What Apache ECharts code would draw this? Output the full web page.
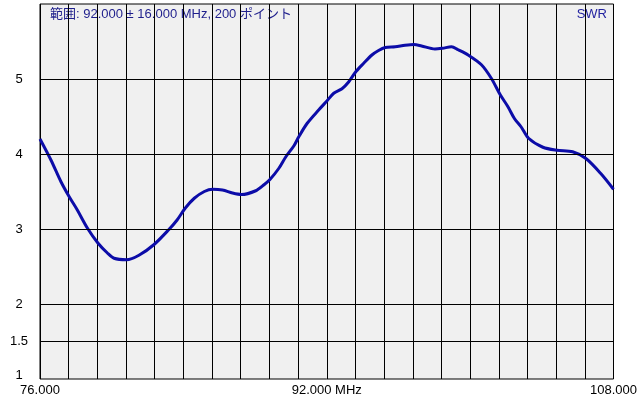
<!DOCTYPE html>
<html>
<head>
<meta charset="utf-8">
<script src="https://cdn.jsdelivr.net/npm/echarts@6/dist/echarts.min.js"></script>
<style>
html,body{margin:0;padding:0;background:#fff;}
#c{width:640px;height:400px;}
</style>
</head>
<body>
<div id="c"></div>
<script>
// Frequencies (MHz) and SWR values
var freq = [76.00,76.61,77.17,77.63,78.09,78.65,79.24,79.76,80.13,80.83,81.52,82.35,83.18,83.65,84.11,84.61,85.17,85.63,86.18,86.74,87.24,88.04,88.50,88.83,89.33,89.71,90.17,90.44,90.91,91.56,92.02,92.39,92.85,93.22,93.63,94.06,94.52,94.89,95.26,95.82,96.37,96.87,97.29,98.04,98.46,98.96,99.33,99.89,100.63,101.18,101.68,102.11,102.48,102.85,103.26,104.06,104.85,105.72,106.46,107.29,108.00];
var swr = [4.20,3.92,3.63,3.43,3.25,3.01,2.81,2.68,2.61,2.59,2.65,2.79,2.99,3.12,3.28,3.41,3.50,3.53,3.52,3.48,3.46,3.51,3.59,3.66,3.81,3.96,4.11,4.23,4.41,4.59,4.71,4.81,4.87,4.96,5.10,5.21,5.32,5.38,5.42,5.43,5.45,5.46,5.44,5.40,5.41,5.43,5.39,5.32,5.19,5.01,4.79,4.63,4.47,4.36,4.21,4.09,4.05,4.03,3.94,3.74,3.53];
var xTickValues = [76, 92, 108];
var xTickLabels = ['76.000', '92.000 MHz', '108.000'];
var yTickValues = [1, 1.5, 2, 3, 4, 5];
var yTickLabels = ['1', '1.5', '2', '3', '4', '5'];
var yGridValues = [1.5, 2, 3, 4, 5];
var titleText = '範囲: 92.000 ± 16.000 MHz, 200 ポイント';
var seriesName = 'SWR';

var chart = echarts.init(document.getElementById('c'), null, {renderer: 'canvas'});
var data = freq.map(function (f, i) { return [f, swr[i]]; });

function findLabel(vals, labels, v) {
  for (var i = 0; i < vals.length; i++) {
    if (Math.abs(vals[i] - v) < 0.01) return labels[i];
  }
  return null;
}

chart.setOption({
  animation: false,
  backgroundColor: '#ffffff',
  grid: {
    left: 40, right: 24, top: 4, bottom: 21,
    show: true, backgroundColor: '#f0f0f0',
    borderColor: '#000', borderWidth: 1
  },
  xAxis: {
    type: 'value', min: 76, max: 108, interval: 1.6,
    axisLine: {show: false}, axisTick: {show: false},
    splitLine: {show: true, lineStyle: {color: '#000', width: 1}},
    axisLabel: {
      show: true, margin: 5, color: '#000',
      fontFamily: 'Liberation Sans, Arial, sans-serif', fontSize: 13,
      showMinLabel: true, showMaxLabel: true,
      formatter: function (v) { var l = findLabel(xTickValues, xTickLabels, v); return l === null ? '' : l; }
    }
  },
  yAxis: {
    type: 'value', min: 1, max: 6, interval: 0.5,
    axisLine: {show: false}, axisTick: {show: false},
    splitLine: {show: false},
    axisLabel: {
      show: true, margin: 21, align: 'center', color: '#000',
      fontFamily: 'Liberation Sans, Arial, sans-serif', fontSize: 13,
      showMinLabel: true,
      formatter: function (v) {
        var l = findLabel(yTickValues, yTickLabels, v);
        if (l === null) return '';
        if (Math.abs(v - 1) < 0.01) return '{b|' + l + '}';
        return l;
      },
      rich: {
        b: {fontFamily: 'Liberation Sans, Arial, sans-serif', fontSize: 13, color: '#000', padding: [0, 0, 7, 0]}
      }
    }
  },
  graphic: [
    {type: 'text', left: 50, top: 8, silent: true,
     style: {text: titleText, fill: '#1e1e8c', font: '13px "Liberation Sans", "Noto Sans CJK JP", sans-serif'}},
    {type: 'text', right: 33, top: 8, silent: true,
     style: {text: seriesName, fill: '#2323a0', font: '13px "Liberation Sans", Arial, sans-serif'}}
  ],
  series: [
    {
      type: 'line', data: [], z: 1, silent: true,
      markLine: {
        silent: true, symbol: 'none', animation: false,
        label: {show: false},
        lineStyle: {color: '#000', width: 1, type: 'solid'},
        data: yGridValues.map(function (v) { return {yAxis: v}; })
      }
    },
    {
      name: seriesName, type: 'line', data: data, z: 3,
      showSymbol: false, smooth: 0.3,
      lineStyle: {color: '#0c0ca8', width: 3}
    }
  ]
});
</script>
</body>
</html>
